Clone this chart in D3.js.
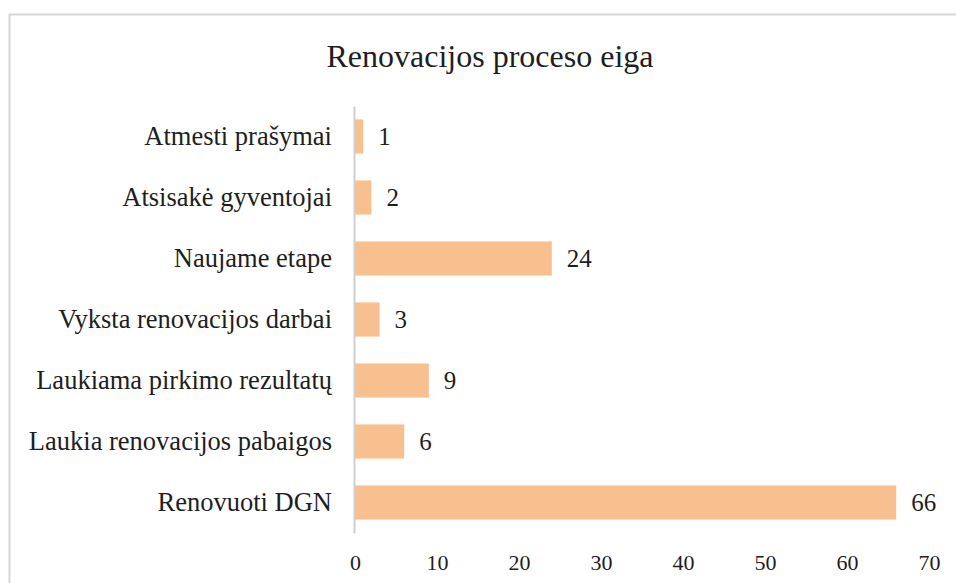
<!DOCTYPE html>
<html lang="lt">
<head>
    <meta charset="UTF-8">
    <script src="https://d3js.org/d3.v7.min.js"></script>
    <title>Renovacijos proceso eiga</title>
    <style>
        body { margin: 0; background: #fff; }
        text { font-family: "Liberation Serif", "Times New Roman", serif; fill: #1e1e1e; }
    </style>
</head>
<body>
    <script>
        var w = 956;
        var h = 583;

        var categories = ["Atmesti prašymai", "Atsisakė gyventojai", "Naujame etape",
                          "Vyksta renovacijos darbai", "Laukiama pirkimo rezultatų",
                          "Laukia renovacijos pabaigos", "Renovuoti DGN"];
        var values = [1, 2, 24, 3, 9, 6, 66];
        var ticks = [0, 10, 20, 30, 40, 50, 60, 70];

        // note: "top" clashes with window.top, so use plotTop/plotBottom
        var plotLeft = 355, plotRight = 929, plotTop = 106, plotBottom = 533;
        var serif = "'Liberation Serif', 'Times New Roman', serif";

        var svg = d3.select("body")
                    .append("svg")
                    .attr("width", w)
                    .attr("height", h);

        // chart frame
        svg.append("rect")
            .attr("x", 9.5).attr("y", 14.5)
            .attr("width", 960).attr("height", 600)
            .attr("fill", "none")
            .attr("stroke", "#d6d6d6")
            .attr("stroke-width", 2);

        svg.append("text")
            .attr("x", 490).attr("y", 67)
            .attr("text-anchor", "middle")
            .style("font-size", "32px")
            .text("Renovacijos proceso eiga");

        var x = d3.scaleLinear().domain([0, 70]).range([plotLeft, plotRight]);
        var y = d3.scaleBand().domain(categories).range([plotTop, plotBottom]).paddingInner(0.44).paddingOuter(0.22);

        svg.selectAll("rect.bar")
            .data(values)
            .enter()
            .append("rect")
            .attr("class", "bar")
            .attr("x", x(0))
            .attr("y", function(d, i) { return y(categories[i]); })
            .attr("width", function(d) { return x(d) - x(0); })
            .attr("height", y.bandwidth())
            .attr("fill", "#f8c08f");

        svg.selectAll("text.val")
            .data(values)
            .enter()
            .append("text")
            .attr("class", "val")
            .attr("x", function(d) { return x(d) + 15; })
            .attr("y", function(d, i) { return y(categories[i]) + y.bandwidth() / 2; })
            .attr("dy", "0.35em")
            .style("font-size", "25px")
            .text(function(d) { return d; });

        // category axis
        var yAxis = svg.append("g")
            .attr("transform", "translate(" + (plotLeft - 1) + ",0)")
            .call(d3.axisLeft(y).tickSize(0).tickPadding(22));
        yAxis.select(".domain").attr("stroke", "#cfcfcf").attr("stroke-width", 2);
        yAxis.selectAll("text")
            .style("font-size", "26.5px")
            .style("font-family", serif)
            .attr("fill", "#1e1e1e");

        var xAxis = svg.append("g")
            .attr("transform", "translate(0," + plotBottom + ")")
            .call(d3.axisBottom(x).tickValues(ticks).tickSize(0).tickPadding(21));
        xAxis.select(".domain").remove();
        xAxis.selectAll("text")
            .style("font-size", "22px")
            .style("font-family", serif)
            .attr("fill", "#1e1e1e");
    </script>
</body>
</html>
